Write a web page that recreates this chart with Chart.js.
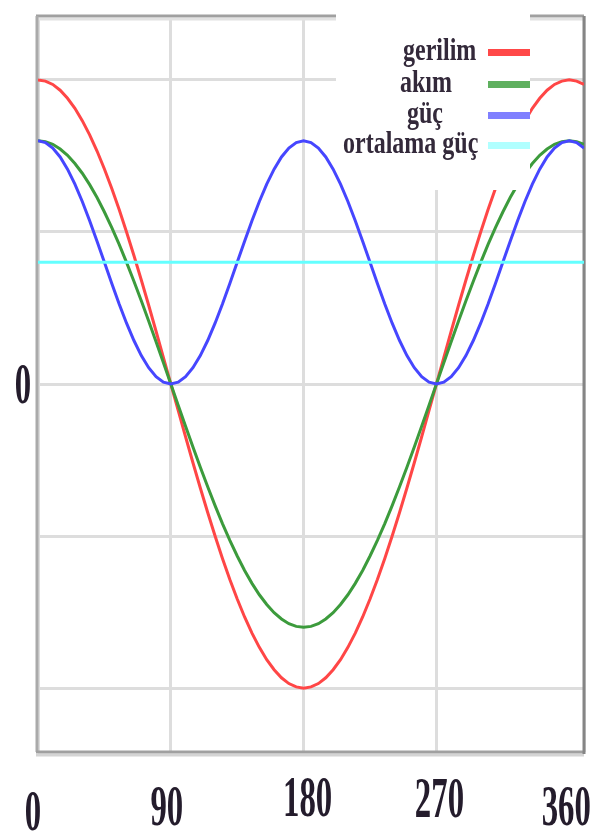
<!DOCTYPE html>
<html>
<head>
<meta charset="utf-8">
<script src="https://cdn.jsdelivr.net/npm/chart.js@4/dist/chart.umd.min.js"></script>
<style>
  html, body { margin: 0; padding: 0; background: #fff; }
  #wrap { width: 595px; height: 832px; }
</style>
</head>
<body>
<div id="wrap"><canvas id="myChart" width="595" height="832"></canvas></div>
<script>
'use strict';

// angle (degrees) and the values
const angles = [0, 5, 10, 15, 20, 25, 30, 35, 40, 45, 50, 55, 60, 65, 70, 75, 80, 85,
  90, 95, 100, 105, 110, 115, 120, 125, 130, 135, 140, 145, 150, 155, 160, 165, 170, 175,
  180, 185, 190, 195, 200, 205, 210, 215, 220, 225, 230, 235, 240, 245, 250, 255, 260, 265,
  270, 275, 280, 285, 290, 295, 300, 305, 310, 315, 320, 325, 330, 335, 340, 345, 350, 355,
  360, 365, 370];
const gerilim = [2, 1.992, 1.970, 1.932, 1.879, 1.813, 1.732, 1.638, 1.532, 1.414, 1.286, 1.147, 1, 0.845, 0.684, 0.518, 0.347, 0.174,
  0, -0.174, -0.347, -0.518, -0.684, -0.845, -1, -1.147, -1.286, -1.414, -1.532, -1.638, -1.732, -1.813, -1.879, -1.932, -1.970, -1.992,
  -2, -1.992, -1.970, -1.932, -1.879, -1.813, -1.732, -1.638, -1.532, -1.414, -1.286, -1.147, -1, -0.845, -0.684, -0.518, -0.347, -0.174,
  0, 0.174, 0.347, 0.518, 0.684, 0.845, 1, 1.147, 1.286, 1.414, 1.532, 1.638, 1.732, 1.813, 1.879, 1.932, 1.970, 1.992,
  2, 1.992, 1.970];
const akim = [1.6, 1.594, 1.576, 1.545, 1.504, 1.450, 1.386, 1.311, 1.226, 1.131, 1.028, 0.918, 0.8, 0.676, 0.547, 0.414, 0.278, 0.139,
  0, -0.139, -0.278, -0.414, -0.547, -0.676, -0.8, -0.918, -1.028, -1.131, -1.226, -1.311, -1.386, -1.450, -1.504, -1.545, -1.576, -1.594,
  -1.6, -1.594, -1.576, -1.545, -1.504, -1.450, -1.386, -1.311, -1.226, -1.131, -1.028, -0.918, -0.8, -0.676, -0.547, -0.414, -0.278, -0.139,
  0, 0.139, 0.278, 0.414, 0.547, 0.676, 0.8, 0.918, 1.028, 1.131, 1.226, 1.311, 1.386, 1.450, 1.504, 1.545, 1.576, 1.594,
  1.6, 1.594, 1.576];
const guc = [1.6, 1.588, 1.552, 1.493, 1.413, 1.314, 1.2, 1.074, 0.939, 0.8, 0.661, 0.526, 0.4, 0.286, 0.187, 0.107, 0.048, 0.012,
  0, 0.012, 0.048, 0.107, 0.187, 0.286, 0.4, 0.526, 0.661, 0.8, 0.939, 1.074, 1.2, 1.314, 1.413, 1.493, 1.552, 1.588,
  1.6, 1.588, 1.552, 1.493, 1.413, 1.314, 1.2, 1.074, 0.939, 0.8, 0.661, 0.526, 0.4, 0.286, 0.187, 0.107, 0.048, 0.012,
  0, 0.012, 0.048, 0.107, 0.187, 0.286, 0.4, 0.526, 0.661, 0.8, 0.939, 1.074, 1.2, 1.314, 1.413, 1.493, 1.552, 1.588,
  1.6, 1.588, 1.552];
const avgAngles = [0, 370];
const ortalamaGuc = [0.8, 0.8];

const xTickLabels = ['0', '90', '180', '270', '360'];
const xTickValues = [0, 90, 180, 270, 360];
const yTickLabels = ['0'];
const yTickValues = [0];

function toPoints(xs, ys) {
  let pts = [];
  for (let i = 0; i < xs.length; i++) {
    pts.push({ x: xs[i], y: ys[i] });
  }
  return pts;
}

// frame, legend box (drawn under the power curve) and the stretched serif labels
const decorPlugin = {
  id: 'decor',
  beforeDatasetsDraw(chart) {
    const ctx = chart.ctx;
    const a = chart.chartArea;
    ctx.save();
    ctx.lineWidth = 3;
    ctx.strokeStyle = '#a0a0a0';
    ctx.beginPath(); ctx.moveTo(a.left - 2, a.top); ctx.lineTo(a.right, a.top); ctx.stroke();
    ctx.strokeStyle = '#e2e2e2';
    ctx.beginPath(); ctx.moveTo(a.left, a.top + 3); ctx.lineTo(a.right, a.top + 3); ctx.stroke();
    ctx.strokeStyle = '#aaaaaa';
    ctx.beginPath(); ctx.moveTo(a.left - 1, a.top); ctx.lineTo(a.left - 1, a.bottom); ctx.stroke();
    ctx.strokeStyle = '#a0a0a0';
    ctx.beginPath(); ctx.moveTo(a.left - 2, a.bottom); ctx.lineTo(a.right, a.bottom); ctx.stroke();
    ctx.strokeStyle = '#d4d4d4';
    ctx.beginPath(); ctx.moveTo(a.left - 2, a.bottom + 3); ctx.lineTo(a.right, a.bottom + 3); ctx.stroke();
    ctx.strokeStyle = '#858585';
    ctx.beginPath(); ctx.moveTo(a.right, a.top); ctx.lineTo(a.right, a.bottom + 2); ctx.stroke();
    ctx.restore();
  },
  beforeDatasetDraw(chart, args) {
    if (args.index !== 2) return;
    const ctx = chart.ctx;
    ctx.save();
    ctx.fillStyle = '#ffffff';
    ctx.fillRect(336, 12, 194, 178);
    const rows = [52, 84, 115, 145];
    const textX = [403, 400, 407, 343];
    const sampleColors = ['#ff4848', '#5fb05f', '#8080ff', '#b0ffff'];
    ctx.font = 'bold 24px "Liberation Serif"';
    ctx.textAlign = 'left';
    ctx.textBaseline = 'alphabetic';
    chart.data.datasets.forEach(function (ds, i) {
      ctx.fillStyle = sampleColors[i];
      ctx.fillRect(488, rows[i] - 3, 42, 7);
      ctx.save();
      ctx.translate(textX[i], rows[i] + 8);
      ctx.scale(1, 1.3);
      ctx.fillStyle = '#33293a';
      ctx.fillText(ds.label, 0, 0);
      ctx.restore();
    });
    ctx.restore();
  },
  afterDraw(chart) {
    const ctx = chart.ctx;
    const xs = chart.scales.x;
    const ys = chart.scales.y;
    const xShift = [-5, -4, 4, 3, -3];
    const baseY = [830, 825, 816, 817, 825];
    ctx.save();
    ctx.fillStyle = '#241c2c';
    ctx.font = 'bold 40px "Liberation Serif"';
    ctx.textAlign = 'center';
    ctx.textBaseline = 'alphabetic';
    for (let i = 0; i < xTickLabels.length; i++) {
      ctx.save();
      ctx.translate(xs.getPixelForValue(xTickValues[i]) + xShift[i], baseY[i]);
      ctx.scale(0.82, 1.45);
      ctx.fillText(xTickLabels[i], 0, 0);
      ctx.restore();
    }
    for (let i = 0; i < yTickLabels.length; i++) {
      ctx.save();
      ctx.translate(23, ys.getPixelForValue(yTickValues[i]) + 19);
      ctx.scale(0.82, 1.45);
      ctx.fillText(yTickLabels[i], 0, 0);
      ctx.restore();
    }
    ctx.restore();
  }
};

const ctx = document.getElementById('myChart').getContext('2d');
const myChart = new Chart(ctx, {
  type: 'line',
  data: {
    datasets: [{
      label: 'gerilim',
      data: toPoints(angles, gerilim),
      borderColor: 'rgb(255, 70, 70)',
      borderWidth: 3,
      pointRadius: 0,
      order: 3
    }, {
      label: 'akım',
      data: toPoints(angles, akim),
      borderColor: 'rgb(60, 155, 60)',
      borderWidth: 3,
      pointRadius: 0,
      order: 2
    }, {
      label: 'güç',
      data: toPoints(angles, guc),
      borderColor: 'rgb(70, 70, 255)',
      borderWidth: 3,
      pointRadius: 0,
      order: 1
    }, {
      label: 'ortalama güç',
      data: toPoints(avgAngles, ortalamaGuc),
      borderColor: 'rgb(100, 255, 255)',
      borderWidth: 3,
      pointRadius: 0,
      order: 0
    }]
  },
  options: {
    responsive: false,
    animation: false,
    layout: { padding: { left: 38, right: 11, top: 16, bottom: 80 } },
    plugins: { legend: { display: false }, tooltip: { enabled: false } },
    scales: {
      x: {
        type: 'linear',
        min: 0,
        max: 370,
        ticks: { display: false, stepSize: 90 },
        grid: { color: '#dddddd', lineWidth: 3, drawTicks: false },
        border: { display: false }
      },
      y: {
        min: -2.42,
        max: 2.42,
        ticks: { display: false, stepSize: 1 },
        grid: { color: '#dddddd', lineWidth: 3, drawTicks: false },
        border: { display: false }
      }
    }
  },
  plugins: [decorPlugin]
});
</script>
</body>
</html>
